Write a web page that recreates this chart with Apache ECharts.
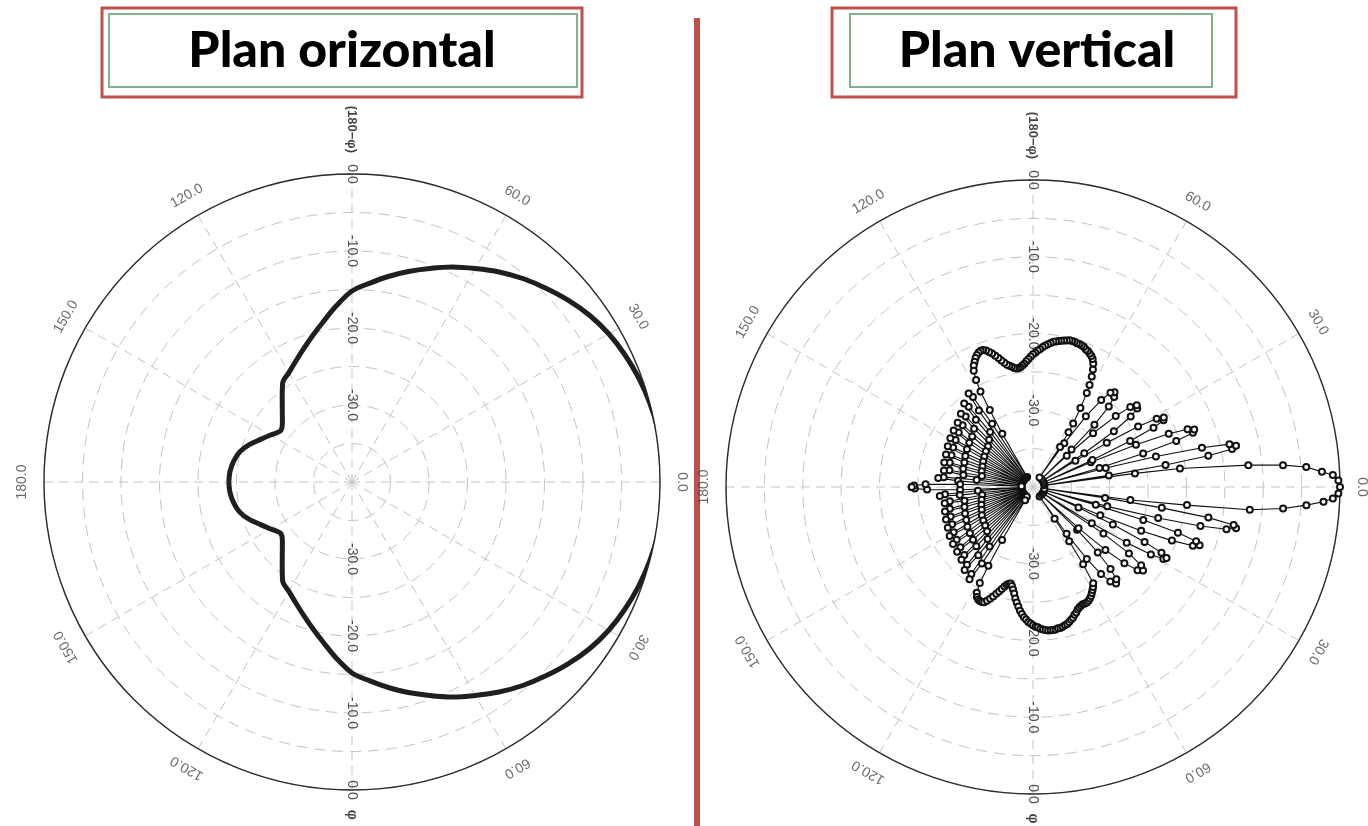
<!DOCTYPE html>
<html>
<head>
<meta charset="utf-8">
<title>Plan orizontal / Plan vertical</title>
<script src="https://cdn.jsdelivr.net/npm/echarts@6.0.0/dist/echarts.min.js"></script>
<style>
  html, body { margin: 0; padding: 0; background: #fff; }
  #chart { width: 1368px; height: 826px; }
</style>
</head>
<body>
<div id="chart"></div>
<script>
// ---- data -------------------------------------------------------------
// radial scale in dB, angular scale in degrees (0 = right, counter-clockwise)
const RAD_MIN = -40
const RAD_MAX = 0
const RAD_STEP = 5
const ANGLE_TICKS = [0, 30, 60, 120, 150, 180, -150, -120, -60, -30]
const RADIAL_TICKS = [0, -10, -20, -30]
const TOP_NAME = '(180\u2212\u03c6)'
const BOTTOM_NAME = '\u03c6'

// horizontal plane pattern
const H_ANGLES = [
  -180, -175, -170, -165, -160, -155, -150, -147, -144, -140, -135, -130, -125,
  -120, -115, -110, -105, -100, -95, -90, -85, -80, -75, -70, -65, -60, -55,
  -50, -45, -40, -35, -30, -25, -20, -15, -10, -5,
  0,
  5, 10, 15, 20, 25, 30, 35, 40, 45, 50, 55, 60, 65, 70, 75, 80, 85, 90, 95,
  100, 105, 110, 115, 120, 125, 130, 135, 140, 144, 147, 150, 155, 160, 165,
  170, 175, 180,
]
const H_GAINS = [
  -24.0, -24.1, -24.4, -24.9, -25.8, -26.9, -27.8, -28.3, -28.6, -28.2, -27.2, -25.9, -24.3,
  -23.6, -22.7, -21.6, -20.3, -18.8, -17.0, -15.2, -14.1, -12.9, -11.7, -10.5, -9.2, -8.0, -6.7,
  -5.5, -4.4, -3.3, -2.3, -1.5, -0.9, -0.4, 0.0, 0.3, 0.4,
  0.4,
  0.4, 0.3, 0.0, -0.4, -0.9, -1.5, -2.3, -3.3, -4.4, -5.5, -6.7, -8.0, -9.2, -10.5, -11.7, -12.9, -14.1, -15.2, -17.0,
  -18.8, -20.3, -21.6, -22.7, -23.6, -24.3, -25.9, -27.2, -28.2, -28.6, -28.3, -27.8, -26.9, -25.8, -24.9,
  -24.4, -24.1, -24.0,
]

// vertical plane pattern, [angle, dB] in plotting order
const V_PATTERN = [
  // back lobe + lower rear fan
  [-180, -24.2], [-179.3, -24.6], [-178.6, -26.2], [-177.8, -30.5], [-176.9, -38.5],
  [-176.1, -32.8], [-175.3, -28.5], [-174.5, -27.8], [-173.7, -30.4], [-172.5, -38.5],
  [-171.1, -33.3], [-170.3, -29.0], [-169.5, -28.3], [-168.7, -30.9], [-167.5, -38.5],
  [-166.1, -33.1], [-165.3, -28.8], [-164.5, -28.1], [-163.7, -30.7], [-162.5, -38.5],
  [-161.1, -32.9], [-160.3, -28.6], [-159.5, -27.9], [-158.7, -30.5], [-157.5, -38.5],
  [-156.1, -32.7], [-155.3, -28.4], [-154.5, -27.7], [-153.7, -30.3], [-152.5, -38.5],
  [-151.1, -32.4], [-150.3, -28.1], [-149.5, -27.4], [-148.7, -30.0], [-147.5, -38.5],
  [-146.1, -32.2], [-145.3, -27.9], [-144.5, -27.2], [-143.7, -29.8], [-142.5, -38.5],
  [-141.1, -32.0], [-140.3, -27.7], [-139.5, -27.0], [-138.7, -29.6], [-137.5, -38.5],
  [-136.1, -31.7], [-135.3, -27.4], [-134.5, -26.7], [-133.7, -29.3], [-132.5, -38.5],
  [-131.1, -31.0], [-130.3, -26.7], [-129.5, -26.0], [-128.7, -28.6], [-127.5, -38.5],
  [-126.1, -30.4], [-125.3, -26.1], [-124.5, -25.4], [-123.7, -28.0], [-122.5, -38.5],
  // lower big lobe
  [-121.0, -38.0], [-120.2, -32.0], [-119.5, -28.2], [-119.0, -25.7], [-118.0, -24.4],
  [-117, -23.9], [-116, -23.7], [-115, -23.6], [-114, -23.6], [-113, -23.7],
  [-112, -24.0], [-111, -24.4], [-110, -24.8], [-109, -25.3], [-108, -25.7],
  [-107, -26.1], [-106, -26.5], [-105, -26.8], [-104, -27.0], [-103, -27.1],
  [-102, -26.8], [-101, -26.4], [-100, -25.9], [-99, -25.3], [-98, -24.8],
  [-97, -24.3], [-96, -23.8], [-95, -23.4], [-94, -23.0], [-93, -22.7],
  [-92, -22.4], [-91, -22.2], [-90, -22.0], [-89, -21.8], [-88, -21.7],
  [-87, -21.5], [-86, -21.4], [-85, -21.3], [-84, -21.2], [-83, -21.2],
  [-82, -21.2], [-81, -21.2], [-80, -21.3], [-79, -21.3], [-78, -21.4],
  [-77, -21.5], [-76, -21.6], [-75, -21.8], [-74, -22.0], [-73, -22.2],
  [-72, -22.5], [-71, -22.7], [-70, -23.0], [-69, -23.2], [-68, -23.3],
  [-67, -23.4], [-66, -23.4], [-65, -23.4], [-64, -23.5], [-63, -23.7],
  [-62, -23.9], [-61, -24.2], [-60, -24.5], [-59, -24.8], [-58, -25.2],
  [-57.0, -28.0], [-56.3, -31.5], [-55.7, -35.0], [-55.2, -38.5],
  // lower side lobes
  [-54.3, -32.5], [-53.2, -28.3], [-52.0, -25.6], [-50.7, -24.1], [-49.3, -23.4],
  [-47.9, -23.8], [-46.6, -25.3], [-45.3, -28.0], [-44.1, -32.0], [-43.0, -38.5],
  [-42.1, -32.0], [-41.0, -27.5], [-39.8, -24.5], [-38.5, -22.6], [-37.2, -22.0],
  [-35.9, -22.6], [-34.7, -24.8], [-33.5, -29.0], [-32.4, -38.5],
  [-31.6, -31.0], [-30.7, -25.8], [-29.8, -22.3], [-28.9, -20.6], [-28.0, -20.3],
  [-27.1, -21.2], [-26.2, -23.8], [-25.2, -28.5], [-24.3, -33.5], [-23.6, -38.5],
  [-22.8, -30.5], [-22.0, -24.8], [-21.1, -20.6], [-20.2, -17.8], [-19.3, -17.0],
  [-18.4, -17.6], [-17.5, -20.2], [-16.7, -25.0], [-15.9, -31.5], [-15.3, -38.5],
  [-14.6, -30.0], [-13.9, -23.2], [-13.1, -17.6], [-12.3, -14.2], [-11.5, -13.0],
  [-10.7, -13.4], [-9.9, -16.8], [-9.2, -23.0], [-8.6, -30.5], [-8.2, -38.5],
  // main lobe
  [-7.6, -27.2], [-6.7, -19.8], [-6.0, -11.6], [-4.9, -7.3], [-3.8, -4.3],
  [-2.9, -2.1], [-2.2, -0.9], [-1.2, -0.2], [0, 0], [1.2, -0.2],
  [2.3, -0.9], [3.0, -2.3], [4.2, -4.3], [5.0, -7.3], [5.8, -11.8],
  [7.2, -20.7], [7.6, -26.6], [8.2, -38.5],
  // upper side lobes
  [8.7, -30.0], [9.4, -22.5], [10.1, -16.8], [10.8, -13.6], [11.5, -13.0],
  [12.3, -13.8], [13.1, -17.4], [13.9, -23.5], [14.7, -30.2], [15.3, -38.5],
  [16.0, -31.0], [16.9, -25.0], [17.8, -20.4], [18.7, -18.0], [19.6, -17.7],
  [20.5, -18.5], [21.4, -21.0], [22.3, -25.5], [23.1, -31.8], [23.6, -38.5],
  [24.4, -31.5], [25.3, -26.0], [26.2, -22.5], [27.1, -20.9], [28.0, -20.7],
  [28.9, -21.6], [29.9, -24.2], [30.9, -28.8], [31.8, -33.5], [32.4, -38.5],
  [33.4, -32.0], [34.6, -27.2], [35.8, -24.3], [37.0, -23.0], [38.2, -22.8],
  [39.4, -23.6], [40.6, -25.8], [41.8, -29.5], [42.8, -34.0], [43.2, -38.5],
  [44.2, -33.0], [45.4, -28.6], [46.7, -25.6], [48.0, -24.2], [49.3, -23.7],
  [50.6, -24.1], [51.9, -25.6], [53.2, -28.5], [54.4, -33.0], [55.3, -38.5],
  // upper big lobe
  [56.0, -33.7], [57.0, -31.5], [57.7, -30.2], [59.0, -28.0], [60.2, -25.9],
  [61.0, -24.8], [62, -23.7], [63, -22.8], [64, -22.1], [65, -21.6],
  [66, -21.3], [67, -21.1], [68, -20.9], [69, -20.8], [70, -20.6],
  [71, -20.5], [72, -20.4], [73, -20.4], [74, -20.3], [75, -20.3],
  [76, -20.3], [77, -20.4], [78, -20.5], [79, -20.6], [80, -20.7],
  [81, -20.8], [82, -20.9], [83, -21.1], [84, -21.3], [85, -21.5],
  [86, -21.7], [87, -22.0], [88, -22.2], [89, -22.5], [90, -22.7],
  [91, -23.0], [92, -23.3], [93, -23.6], [94, -23.9], [95, -24.1],
  [96, -24.3], [97, -24.4], [98, -24.4], [99, -24.3], [100, -24.1],
  [101, -23.9], [102, -23.7], [103, -23.4], [104, -23.0], [105, -22.6],
  [106, -22.2], [107, -21.8], [108, -21.5], [109, -21.2], [110, -21.0],
  [111, -21.0], [112, -21.1], [113, -21.3], [114, -21.6], [115, -22.0],
  [116, -22.4], [117, -23.0], [118.0, -24.2],
  [118.8, -25.8], [119.3, -28.5], [120.0, -32.0], [120.6, -38.5],
  // upper rear fan + back lobe
  [122.9, -30.2], [123.7, -25.9], [124.5, -25.2], [125.3, -27.8], [126.5, -38.5],
  [127.9, -30.9], [128.7, -26.6], [129.5, -25.9], [130.3, -28.5], [131.5, -38.5],
  [132.9, -31.6], [133.7, -27.3], [134.5, -26.6], [135.3, -29.2], [136.5, -38.5],
  [137.9, -32.1], [138.7, -27.8], [139.5, -27.1], [140.3, -29.7], [141.5, -38.5],
  [142.9, -32.3], [143.7, -28.0], [144.5, -27.3], [145.3, -29.9], [146.5, -38.5],
  [147.9, -32.5], [148.7, -28.2], [149.5, -27.5], [150.3, -30.1], [151.5, -38.5],
  [152.9, -32.7], [153.7, -28.4], [154.5, -27.7], [155.3, -30.3], [156.5, -38.5],
  [157.9, -32.9], [158.7, -28.6], [159.5, -27.9], [160.3, -30.5], [161.5, -38.5],
  [162.9, -33.0], [163.7, -28.7], [164.5, -28.0], [165.3, -30.6], [166.5, -38.5],
  [167.9, -33.2], [168.7, -28.9], [169.5, -28.2], [170.3, -30.8], [171.5, -38.5],
  [172.9, -32.6], [173.7, -28.3], [174.5, -27.6], [175.3, -30.2], [176.5, -38.5],
  [177.8, -30.5], [178.6, -26.0], [179.3, -24.5], [180, -24.2],
]

// ---- layout / style ---------------------------------------------------
const FONT = '"Liberation Sans", Arial, sans-serif'
const GRID_GRAY = '#c3c3c3'
const ANGLE_LABEL_R = 2.9 // dB beyond the outer ring
const TOP_NAME_R = 5.8
const BOTTOM_NAME_R = 3.2
const PLOTS = [
  { center: [352, 482], radius: 308 },
  { center: [1033, 487], radius: 307 },
]

function axesFor(i) {
  const angle = {
    polarIndex: i,
    type: 'value',
    min: -180,
    max: 180,
    interval: 30,
    startAngle: 180,
    clockwise: false,
    axisLine: { show: true, lineStyle: { color: '#2b2b2b', width: 1.4 } },
    axisTick: { show: false },
    axisLabel: { show: false },
    splitLine: { show: true, lineStyle: { color: GRID_GRAY, width: 1, type: [9, 6] } },
  }
  const radius = {
    polarIndex: i,
    type: 'value',
    min: RAD_MIN,
    max: RAD_MAX,
    interval: RAD_STEP,
    axisLine: { show: false },
    axisTick: { show: false },
    axisLabel: { show: false },
    splitLine: { show: true, lineStyle: { color: GRID_GRAY, width: 1, type: [11, 7] } },
  }
  return { angle, radius }
}

// tick text drawn as a label-only scatter so it can be set tangential
function labelSeries(i) {
  const data = []
  ANGLE_TICKS.forEach(a => {
    data.push({ name: Math.abs(a).toFixed(1), value: [ANGLE_LABEL_R, a], label: { rotate: a - 90 } })
  })
  RADIAL_TICKS.forEach(v => {
    const lab = { rotate: -90, offset: [0, 12], color: '#222', fontSize: 14 }
    data.push({ name: v.toFixed(1), value: [v, 90], label: lab })
    data.push({ name: v.toFixed(1), value: [v, -90], label: lab })
  })
  data.push({
    name: TOP_NAME, value: [TOP_NAME_R, 90],
    label: { rotate: -90, fontWeight: 'bold', color: '#111', fontSize: 13 },
  })
  data.push({
    name: BOTTOM_NAME, value: [BOTTOM_NAME_R, -90],
    label: { rotate: -90, fontWeight: 'bold', color: '#111', fontSize: 14 },
  })
  return {
    type: 'scatter',
    coordinateSystem: 'polar',
    polarIndex: i,
    silent: true,
    clip: false,
    symbolSize: 0.1,
    itemStyle: { color: 'transparent' },
    z: 6,
    label: {
      show: true,
      position: 'inside',
      formatter: '{b}',
      color: '#444',
      fontSize: 14,
      fontFamily: FONT,
    },
    labelLayout: { hideOverlap: false },
    data,
  }
}

const hData = H_ANGLES.map((a, k) => [H_GAINS[k], a])
const vData = V_PATTERN.map(p => [p[1], p[0]])

const axes = PLOTS.map((_, i) => axesFor(i))

const option = {
  animation: false,
  backgroundColor: '#fff',
  polar: PLOTS.map(p => ({ center: p.center, radius: p.radius })),
  angleAxis: axes.map(a => a.angle),
  radiusAxis: axes.map(a => a.radius),
  series: [
    {
      name: 'Plan orizontal',
      type: 'line',
      coordinateSystem: 'polar',
      polarIndex: 0,
      clip: false,
      data: hData,
      smooth: 0.3,
      symbol: 'none',
      lineStyle: { color: '#1f1f1f', width: 5 },
      z: 4,
    },
    {
      name: 'Plan vertical',
      type: 'line',
      coordinateSystem: 'polar',
      polarIndex: 1,
      clip: false,
      data: vData,
      symbol: 'emptyCircle',
      symbolSize: 6,
      showAllSymbol: true,
      lineStyle: { color: '#111', width: 1.1 },
      itemStyle: { color: '#111', borderWidth: 1 },
      z: 4,
    },
    labelSeries(0),
    labelSeries(1),
  ],
  graphic: [
    // separator
    { type: 'rect', z: 1, shape: { x: 694, y: 18, width: 6, height: 808 }, style: { fill: '#c0504d' } },
    // left title
    { type: 'rect', z: 10, shape: { x: 102, y: 8, width: 480, height: 89 }, style: { fill: '#fff', stroke: '#c0504d', lineWidth: 3 } },
    { type: 'rect', z: 11, shape: { x: 109, y: 14, width: 468, height: 73 }, style: { fill: 'none', stroke: '#7fb38e', lineWidth: 2 } },
    { type: 'text', z: 12, x: 342, y: 51, style: { text: 'Plan orizontal', font: '900 50px Lato, sans-serif', fill: '#000', align: 'center', verticalAlign: 'middle' } },
    // right title
    { type: 'rect', z: 10, shape: { x: 832, y: 8, width: 404, height: 89 }, style: { fill: '#fff', stroke: '#c0504d', lineWidth: 3 } },
    { type: 'rect', z: 11, shape: { x: 850, y: 14, width: 362, height: 73 }, style: { fill: 'none', stroke: '#7fb38e', lineWidth: 2 } },
    { type: 'text', z: 12, x: 1037, y: 51, style: { text: 'Plan vertical', font: '900 50px Lato, sans-serif', fill: '#000', align: 'center', verticalAlign: 'middle' } },
  ],
}

const chart = echarts.init(document.getElementById('chart'), null, { renderer: 'canvas' })
chart.setOption(option)
</script>
</body>
</html>
